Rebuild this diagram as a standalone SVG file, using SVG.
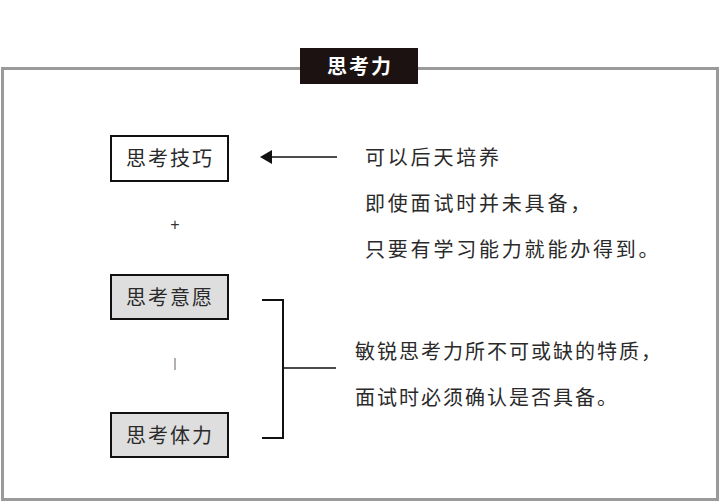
<svg xmlns="http://www.w3.org/2000/svg" width="720" height="502" viewBox="0 0 720 502">
<style>
.t{font-family:"Noto Sans CJK SC","Liberation Serif",sans-serif;font-size:20px;fill:#2a2a2a;letter-spacing:2px}
.s{font-family:"Liberation Sans",sans-serif;fill:#333}
.box{stroke:#111;stroke-width:2}
.ln{stroke:#111;stroke-width:1.5;fill:none}
</style>
<rect width="720" height="502" fill="#fff"/>
<rect x="2.5" y="68.5" width="715" height="431" fill="none" stroke="#9a9a9a" stroke-width="3"/>
<g id="title">
<rect x="300" y="48" width="118" height="36" fill="#1c1212"/>
<text x="360" y="74" text-anchor="middle" style="font-family:'Noto Sans CJK SC','Liberation Serif',sans-serif;font-size:20px;font-weight:bold;fill:#fff;letter-spacing:2px">思考力</text>
</g>
<g id="skill">
<rect class="box" x="111" y="136" width="117" height="45" fill="#fff"/>
<text class="t" x="170" y="166" text-anchor="middle">思考技巧</text>
</g>
<g id="plus1"><text class="s" x="175" y="230" text-anchor="middle" style="font-size:16px">+</text></g>
<g id="will">
<rect class="box" x="111" y="275" width="117" height="44" fill="#dedede"/>
<text class="t" x="170" y="305" text-anchor="middle">思考意愿</text>
</g>
<g id="plus2"><text class="s" x="175" y="367" text-anchor="middle" style="font-size:13px;fill:#777">|</text></g>
<g id="stamina">
<rect class="box" x="111" y="413" width="117" height="44" fill="#dedede"/>
<text class="t" x="170" y="443" text-anchor="middle">思考体力</text>
</g>
<g id="note1" style="letter-spacing:2.8px">
<text class="t" x="365" y="165" style="letter-spacing:2.8px">可以后天培养</text>
<text class="t" x="365" y="211" style="letter-spacing:2.8px">即使面试时并未具备，</text>
<text class="t" x="365" y="257" style="letter-spacing:2.8px">只要有学习能力就能办得到。</text>
</g>
<g id="note2">
<text class="t" x="355" y="359">敏锐思考力所不可或缺的特质，</text>
<text class="t" x="355" y="405">面试时必须确认是否具备。</text>
</g>
<g id="connectors">
<line class="ln" x1="337" y1="157" x2="270" y2="157"/>
<polygon points="260,157 272,150 272,164" fill="#111"/>
<polyline class="ln" points="262,300 283,300 283,438 262,438" style="stroke-width:2"/>
<line class="ln" x1="283" y1="368" x2="336" y2="368"/>
</g>
</svg>
